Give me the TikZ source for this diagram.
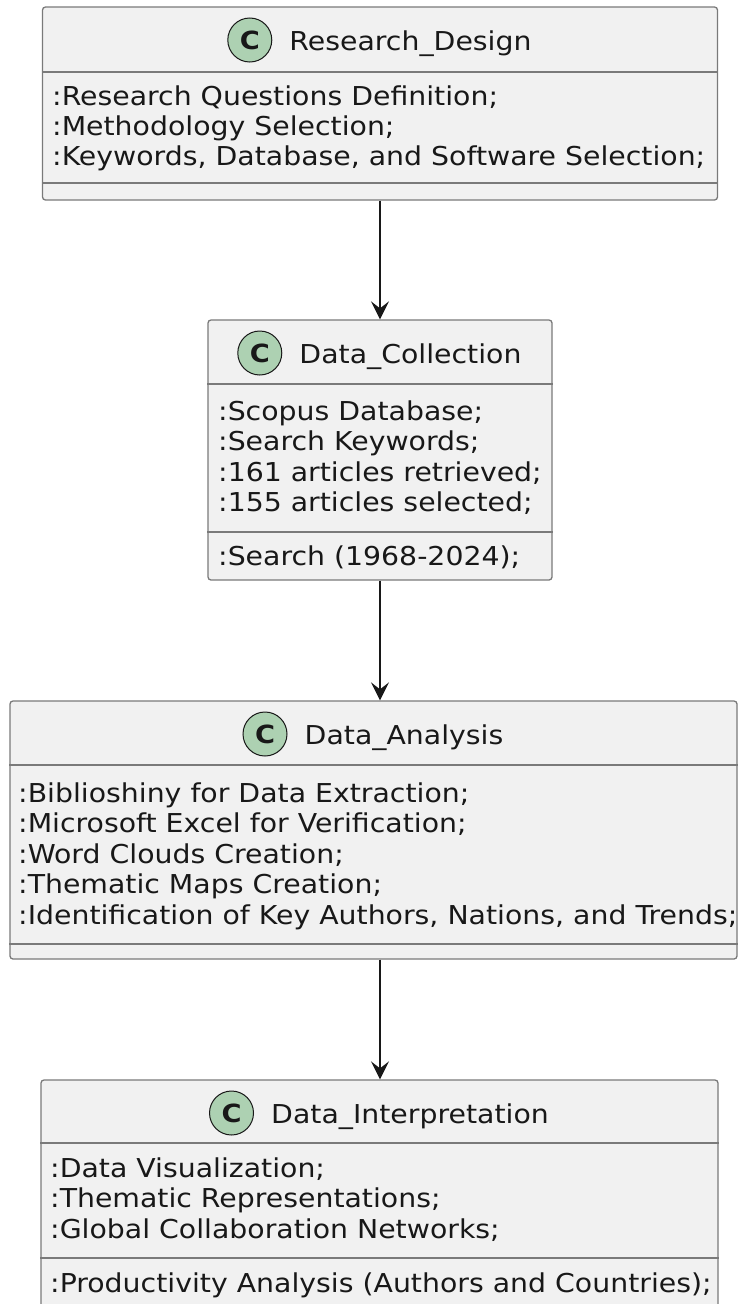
\documentclass[tikz,border=0pt]{standalone}
\usepackage{fontspec}
\setmainfont{DejaVu Sans}[FakeStretch=1.09]
\usetikzlibrary{arrows.meta,positioning}

\definecolor{boxfill}{HTML}{F1F1F1}
\definecolor{boxline}{HTML}{7A7A7A}
\definecolor{badgefill}{HTML}{ADD1B2}
\definecolor{ink}{HTML}{181818}

\tikzset{
  classbox/.style={draw=boxline, fill=boxfill, line width=1.3pt, rounded corners=3pt, inner sep=0pt},
  sepline/.style={draw=boxline, line width=1.3pt},
  member/.style={anchor=base west, inner sep=0pt, text=ink, font=\fontsize{26}{30}\selectfont},
  classname/.style={anchor=base, inner sep=0pt, text=ink, font=\fontsize{26}{30}\selectfont},
  badge/.style={circle, draw=ink, fill=badgefill, line width=1pt, minimum size=44pt, inner sep=0pt,
    text=ink, font=\fontsize{25}{25}\selectfont\bfseries, yshift=10pt},
  flow/.style={draw=ink, line width=1.5pt, -{Stealth[length=18pt,width=18pt,inset=7pt]}}
}

\begin{document}
\begin{tikzpicture}[x=1pt, y=-1pt]
    \useasboundingbox[fill=white] (0,0) rectangle (739,1304);

    % Research_Design
    \node[classbox, minimum width=675pt, minimum height=193pt] (design) at (380,103.5) {};
    \node[classname] (designname) at (410.5,50) {Research\_Design};
    \node[badge, left=17pt of designname.base west] (designbadge) {C};
    \draw[sepline] (design.west |- 0,72) -- (design.east |- 0,72);
    \draw[sepline] (design.west |- 0,183) -- (design.east |- 0,183);
    \node[member] (design1) at (52,105) {:Research Questions Definition;};
    \node[member] (design2) at (52,135) {:Methodology Selection;};
    \node[member] (design3) at (52,165) {:Keywords, Database, and Software Selection;};

    % Data_Collection
    \node[classbox, minimum width=344pt, minimum height=260pt] (collection) at (380,450) {};
    \node[classname] (collectionname) at (410.5,363) {Data\_Collection};
    \node[badge, left=17pt of collectionname.base west] (collectionbadge) {C};
    \draw[sepline] (collection.west |- 0,384) -- (collection.east |- 0,384);
    \draw[sepline] (collection.west |- 0,532) -- (collection.east |- 0,532);
    \node[member] (collection1) at (218,420) {:Scopus Database;};
    \node[member] (collection2) at (218,450.5) {:Search Keywords;};
    \node[member] (collection3) at (218,481) {:161 articles retrieved;};
    \node[member] (collection4) at (218,511.5) {:155 articles selected;};
    \node[member] (collection5) at (218,565) {:Search (1968-2024);};

    % Data_Analysis
    \node[classbox, minimum width=727pt, minimum height=258pt] (analysis) at (373.5,830) {};
    \node[classname] (analysisname) at (404,744) {Data\_Analysis};
    \node[badge, left=17pt of analysisname.base west] (analysisbadge) {C};
    \draw[sepline] (analysis.west |- 0,765) -- (analysis.east |- 0,765);
    \draw[sepline] (analysis.west |- 0,944) -- (analysis.east |- 0,944);
    \node[member] (analysis1) at (18,802) {:Biblioshiny for Data Extraction;};
    \node[member] (analysis2) at (18,832.5) {:Microsoft Excel for Verification;};
    \node[member] (analysis3) at (18,863) {:Word Clouds Creation;};
    \node[member] (analysis4) at (18,893.5) {:Thematic Maps Creation;};
    \node[member] (analysis5) at (18,924) {:Identification of Key Authors, Nations, and Trends;};

    % Data_Interpretation
    \node[classbox, minimum width=677pt, minimum height=240pt] (interp) at (379.5,1200) {};
    \node[classname] (interpname) at (410,1123) {Data\_Interpretation};
    \node[badge, left=17pt of interpname.base west] (interpbadge) {C};
    \draw[sepline] (interp.west |- 0,1143) -- (interp.east |- 0,1143);
    \draw[sepline] (interp.west |- 0,1258) -- (interp.east |- 0,1258);
    \node[member] (interp1) at (50,1177) {:Data Visualization;};
    \node[member] (interp2) at (50,1207.5) {:Thematic Representations;};
    \node[member] (interp3) at (50,1238) {:Global Collaboration Networks;};
    \node[member] (interp4) at (50,1292) {:Productivity Analysis (Authors and Countries);};

    % connectors
    \draw[flow] (design.south) -- (collection.north);
    \draw[flow] (collection.south) -- (collection.south |- analysis.north);
    \draw[flow] (analysis.south -| collection.south) -- (interp.north -| collection.south);
\end{tikzpicture}
\end{document}
